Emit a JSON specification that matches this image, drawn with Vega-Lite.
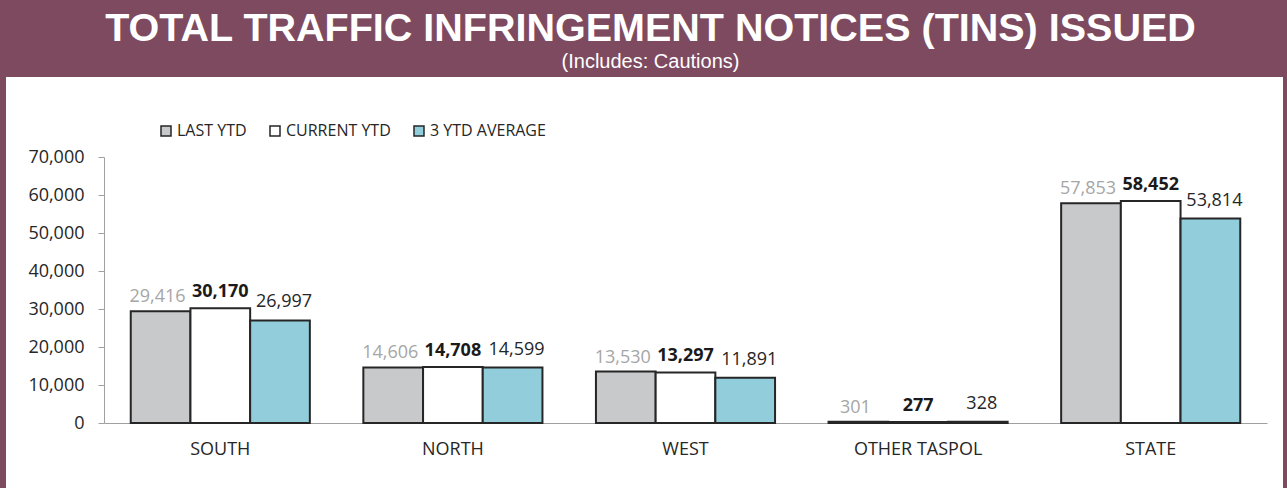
{
  "$schema": "https://vega.github.io/schema/vega-lite/v6.json",
  "autosize": {"type": "none"},
  "padding": {"left": 5, "top": 76, "right": 3, "bottom": 0},
  "width": 1279,
  "height": 414,
  "background": "#7E4A5F",
  "title": {
    "text": "TOTAL TRAFFIC INFRINGEMENT NOTICES (TINS) ISSUED",
    "subtitle": "(Includes: Cautions)",
    "anchor": "middle",
    "frame": "group",
    "dx": 6,
    "font": "Liberation Sans",
    "fontSize": 39.5,
    "fontWeight": "bold",
    "color": "#FFFFFF",
    "subtitleFont": "Liberation Sans",
    "subtitleFontSize": 20,
    "subtitleColor": "#FFFFFF",
    "subtitlePadding": 3,
    "offset": 3
  },
  "data": {
    "values": [
      {"region": "SOUTH", "series": "LAST YTD", "value": 29416},
      {"region": "SOUTH", "series": "CURRENT YTD", "value": 30170},
      {"region": "SOUTH", "series": "3 YTD AVERAGE", "value": 26997},
      {"region": "NORTH", "series": "LAST YTD", "value": 14606},
      {"region": "NORTH", "series": "CURRENT YTD", "value": 14708},
      {"region": "NORTH", "series": "3 YTD AVERAGE", "value": 14599},
      {"region": "WEST", "series": "LAST YTD", "value": 13530},
      {"region": "WEST", "series": "CURRENT YTD", "value": 13297},
      {"region": "WEST", "series": "3 YTD AVERAGE", "value": 11891},
      {"region": "OTHER TASPOL", "series": "LAST YTD", "value": 301},
      {"region": "OTHER TASPOL", "series": "CURRENT YTD", "value": 277},
      {"region": "OTHER TASPOL", "series": "3 YTD AVERAGE", "value": 328},
      {"region": "STATE", "series": "LAST YTD", "value": 57853},
      {"region": "STATE", "series": "CURRENT YTD", "value": 58452},
      {"region": "STATE", "series": "3 YTD AVERAGE", "value": 53814}
    ]
  },
  "encoding": {
    "x": {
      "field": "region",
      "type": "nominal",
      "sort": ["SOUTH", "NORTH", "WEST", "OTHER TASPOL", "STATE"],
      "scale": {"range": [99, 1262], "paddingInner": 0.23, "paddingOuter": 0.115},
      "axis": {
        "title": null,
        "orient": "bottom",
        "offset": -67,
        "ticks": false,
        "labelPadding": 17,
        "labelAngle": 0,
        "labelFont": "Open Sans",
        "labelFontSize": 18,
        "labelColor": "#262626",
        "domainColor": "#A0A0A0",
        "domainWidth": 1
      }
    },
    "xOffset": {
      "field": "series",
      "type": "nominal",
      "sort": ["LAST YTD", "CURRENT YTD", "3 YTD AVERAGE"],
      "scale": {"paddingInner": 0, "paddingOuter": 0}
    },
    "y": {
      "field": "value",
      "type": "quantitative",
      "scale": {"domain": [0, 70000], "range": [347, 81], "nice": false},
      "axis": {
        "title": null,
        "offset": -99,
        "values": [0, 10000, 20000, 30000, 40000, 50000, 60000, 70000],
        "labelExpr": "format(datum.value, ',')",
        "grid": false,
        "tickSize": 6,
        "tickColor": "#A0A0A0",
        "domainColor": "#A0A0A0",
        "labelPadding": 14,
        "labelFont": "Open Sans",
        "labelFontSize": 18,
        "labelColor": "#262626"
      }
    }
  },
  "layer": [
    {
      "mark": {"type": "bar", "stroke": "#262626", "strokeWidth": 2},
      "encoding": {
        "color": {
          "field": "series",
          "type": "nominal",
          "sort": ["LAST YTD", "CURRENT YTD", "3 YTD AVERAGE"],
          "scale": {
            "domain": ["LAST YTD", "CURRENT YTD", "3 YTD AVERAGE"],
            "range": ["#C8C9CB", "#FFFFFF", "#92CDDC"]
          },
          "legend": {
            "title": null,
            "orient": "none",
            "direction": "horizontal",
            "legendX": 153,
            "legendY": 47,
            "padding": 0,
            "symbolType": "square",
            "symbolSize": 100,
            "symbolStrokeColor": "#262626",
            "symbolStrokeWidth": 1.5,
            "labelFont": "Open Sans",
            "labelFontSize": 16,
            "labelColor": "#262626",
            "labelOffset": 3,
            "columnPadding": 20
          }
        }
      }
    },
    {
      "transform": [{"filter": "datum.series === 'LAST YTD'"}],
      "mark": {"type": "text", "baseline": "alphabetic", "dy": -9, "dx": -3, "font": "Open Sans", "fontSize": 18, "color": "#A6A6A6"},
      "encoding": {"text": {"field": "value", "type": "quantitative", "format": ","}}
    },
    {
      "transform": [{"filter": "datum.series === 'CURRENT YTD'"}],
      "mark": {"type": "text", "baseline": "alphabetic", "dy": -11, "font": "Open Sans", "fontSize": 18, "fontWeight": "bold", "color": "#1A1A1A"},
      "encoding": {"text": {"field": "value", "type": "quantitative", "format": ","}}
    },
    {
      "transform": [{"filter": "datum.series === '3 YTD AVERAGE'"}],
      "mark": {"type": "text", "baseline": "alphabetic", "dy": -13, "dx": 4, "font": "Open Sans", "fontSize": 18, "color": "#262626"},
      "encoding": {"text": {"field": "value", "type": "quantitative", "format": ","}}
    }
  ],
  "config": {
    "view": {"fill": "#FFFFFF", "stroke": "#7E4A5F", "strokeWidth": 2}
  }
}
